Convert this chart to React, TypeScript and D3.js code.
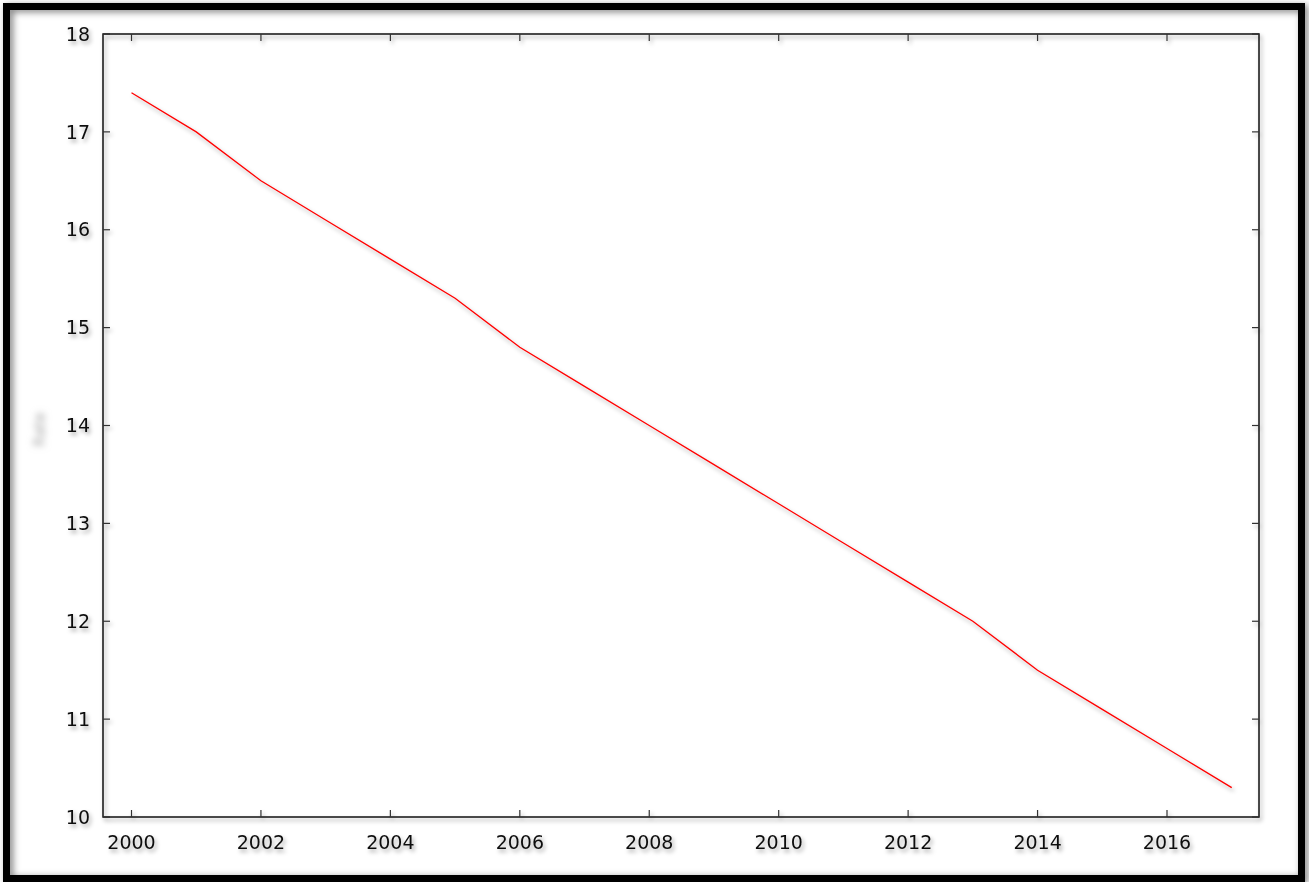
import React from "react";
import * as d3 from "d3";

const years = [2000, 2001, 2002, 2003, 2004, 2005, 2006, 2007, 2008, 2009, 2010, 2011, 2012, 2013, 2014, 2015, 2016, 2017];
const values = [17.4, 17.0, 16.5, 16.1, 15.7, 15.3, 14.8, 14.4, 14.0, 13.6, 13.2, 12.8, 12.4, 12.0, 11.5, 11.1, 10.7, 10.3];
const xTicks = [2000, 2002, 2004, 2006, 2008, 2010, 2012, 2014, 2016];
const yTicks = [10, 11, 12, 13, 14, 15, 16, 17, 18];
const yLabel = "Rate";

const W = 1309;
const H = 882;
const M = { left: 103, right: 1259, top: 34, bottom: 817 };

export default function App() {
  const x = d3.scaleLinear().domain([2000, 2016]).range([131.5, 1167]);
  const y = d3.scaleLinear().domain([10, 18]).range([M.bottom, M.top]);
  const line = d3
    .line<number>()
    .x((_, i) => x(years[i]))
    .y((v) => y(v));
  const font = "'DejaVu Sans', Verdana, sans-serif";
  const tickLen = 7;
  return (
    <svg
      width={W}
      height={H}
      style={{ position: "absolute", left: 0, top: 0, display: "block", background: "#fff" }}
    >
      <defs>
        <filter id="sh" x="-20%" y="-20%" width="140%" height="140%">
          <feDropShadow dx="2" dy="3" stdDeviation="2" floodColor="#000" floodOpacity="0.35" />
        </filter>
        <filter id="frameSh" x="-5%" y="-5%" width="110%" height="110%">
          <feDropShadow dx="3" dy="2" stdDeviation="3.5" floodColor="#000" floodOpacity="0.5" />
        </filter>
        <filter id="blur" x="-50%" y="-50%" width="200%" height="200%">
          <feGaussianBlur stdDeviation="3" />
        </filter>
      </defs>
      <rect x={0} y={0} width={W} height={H} fill="#fff" />
      <rect
        x={6.5}
        y={6.5}
        width={1295}
        height={872}
        fill="none"
        stroke="#000"
        strokeWidth={7}
        filter="url(#frameSh)"
      />
      <g filter="url(#sh)">
        <rect
          x={M.left}
          y={M.top}
          width={M.right - M.left}
          height={M.bottom - M.top}
          fill="none"
          stroke="#111"
          strokeWidth={1.5}
        />
        {xTicks.map((t) => (
          <g key={"x" + t}>
            <line x1={x(t)} x2={x(t)} y1={M.bottom} y2={M.bottom - tickLen} stroke="#333" strokeWidth={1.2} />
            <line x1={x(t)} x2={x(t)} y1={M.top} y2={M.top + tickLen} stroke="#333" strokeWidth={1.2} />
            <text
              x={x(t)}
              y={M.bottom + 25}
              dy="0.35em"
              textAnchor="middle"
              fontFamily={font}
              fontSize={19}
              fill="#111"
            >
              {t}
            </text>
          </g>
        ))}
        {yTicks.map((t) => (
          <g key={"y" + t}>
            <line x1={M.left} x2={M.left + tickLen} y1={y(t)} y2={y(t)} stroke="#333" strokeWidth={1.2} />
            <line x1={M.right} x2={M.right - tickLen} y1={y(t)} y2={y(t)} stroke="#333" strokeWidth={1.2} />
            <text
              x={90}
              y={y(t)}
              dy="0.35em"
              textAnchor="end"
              fontFamily={font}
              fontSize={19}
              fill="#111"
            >
              {t}
            </text>
          </g>
        ))}
        <path d={line(values) || ""} fill="none" stroke="#ff0000" strokeWidth={1.3} />
      </g>
      <text
        transform={`translate(40,${(M.top + M.bottom) / 2 + 4}) rotate(-90)`}
        textAnchor="middle"
        dy="0.35em"
        fontFamily={font}
        fontSize={15}
        fill="#aaa"
        filter="url(#blur)"
      >
        {yLabel}
      </text>
    </svg>
  );
}
